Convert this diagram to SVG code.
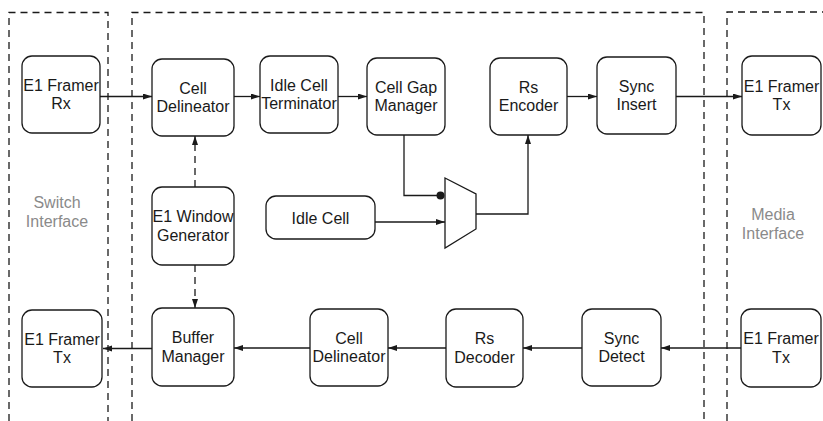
<svg xmlns="http://www.w3.org/2000/svg" width="823" height="421" viewBox="0 0 823 421">
  <style>
    .box { fill: #ffffff; stroke: #1a1a1a; stroke-width: 1.3; }
    .lbl { font-family: "Liberation Sans", Arial, sans-serif; font-size: 16px; fill: #1a1a1a; text-anchor: middle; }
    .zone { font-family: "Liberation Sans", Arial, sans-serif; font-size: 16px; fill: #8a8a8a; text-anchor: middle; }
    .frame { fill: none; stroke: #1a1a1a; stroke-width: 1.3; stroke-dasharray: 7 5; }
    .wire { fill: none; stroke: #1a1a1a; stroke-width: 1.3; }
    .arrow { marker-end: url(#head); }
    .dash { stroke-dasharray: 7 5; }
  </style>
  <defs>
    <marker id="head" markerUnits="userSpaceOnUse" markerWidth="10" markerHeight="7" refX="9" refY="3" orient="auto">
      <path d="M0,0 L9,3 L0,6 z" fill="#1a1a1a" stroke="none"/>
    </marker>
  </defs>

  <rect width="823" height="421" fill="#ffffff"/>

  <!-- interface boundaries -->
  <g id="boundaries">
    <path class="frame" d="M9,421 V12.5 H108 V421"/>
    <path class="frame" d="M132,421 V12.5 H704 V421"/>
    <path class="frame" d="M727,421 V12 H823"/>
    <text class="zone" x="57" y="208">Switch</text>
    <text class="zone" x="57" y="227">Interface</text>
    <text class="zone" x="773" y="220">Media</text>
    <text class="zone" x="773" y="239">Interface</text>
  </g>

  <!-- connectors -->
  <g id="connectors">
    <path class="wire arrow" d="M100,96.5 H152"/>
    <path class="wire arrow" d="M234,96.5 H260"/>
    <path class="wire arrow" d="M338,96.5 H367"/>
    <path class="wire arrow" d="M567,96.5 H597"/>
    <path class="wire arrow" d="M676,96.5 H742"/>
    <path class="wire" d="M404,135 V195.5 H440"/>
    <circle cx="440.5" cy="195.5" r="4" fill="#1a1a1a"/>
    <path class="wire arrow" d="M375,222 H445"/>
    <path class="wire arrow" d="M476,214 H528 V135"/>
    <path class="wire dash arrow" d="M195,187 V136"/>
    <path class="wire dash arrow" d="M195,265 V308"/>
    <path class="wire arrow" d="M152,348.5 H103"/>
    <path class="wire arrow" d="M310,348 H234"/>
    <path class="wire arrow" d="M446,348 H388"/>
    <path class="wire arrow" d="M582,348 H523"/>
    <path class="wire arrow" d="M741,348 H661"/>
  </g>

  <!-- transmit path -->
  <g id="framer-rx">
    <rect class="box" x="22" y="56" width="78" height="77" rx="10"/>
    <text class="lbl" x="61" y="90.5">E1 Framer</text>
    <text class="lbl" x="61" y="109">Rx</text>
  </g>
  <g id="cell-delineator-tx">
    <rect class="box" x="152" y="59" width="82" height="77" rx="10"/>
    <text class="lbl" x="193" y="93.5">Cell</text>
    <text class="lbl" x="193" y="112">Delineator</text>
  </g>
  <g id="idle-cell-terminator">
    <rect class="box" x="260" y="56" width="78" height="77" rx="10"/>
    <text class="lbl" x="299" y="90.5">Idle Cell</text>
    <text class="lbl" x="299" y="109">Terminator</text>
  </g>
  <g id="cell-gap-manager">
    <rect class="box" x="367" y="58" width="78" height="77" rx="10"/>
    <text class="lbl" x="406" y="92.5">Cell Gap</text>
    <text class="lbl" x="406" y="111">Manager</text>
  </g>
  <g id="rs-encoder">
    <rect class="box" x="490" y="58" width="77" height="77" rx="10"/>
    <text class="lbl" x="528.5" y="92.5">Rs</text>
    <text class="lbl" x="528.5" y="111">Encoder</text>
  </g>
  <g id="sync-insert">
    <rect class="box" x="597" y="57" width="79" height="77" rx="10"/>
    <text class="lbl" x="636.5" y="91.5">Sync</text>
    <text class="lbl" x="636.5" y="110">Insert</text>
  </g>
  <g id="framer-tx-media">
    <rect class="box" x="742" y="56" width="79" height="79" rx="10"/>
    <text class="lbl" x="781.5" y="91.5">E1 Framer</text>
    <text class="lbl" x="781.5" y="110">Tx</text>
  </g>

  <!-- idle cell insertion -->
  <g id="idle-cell">
    <rect class="box" x="266" y="196" width="109" height="43" rx="10"/>
    <text class="lbl" x="320.5" y="223.5">Idle Cell</text>
  </g>
  <g id="mux">
    <polygon class="box" points="445,178 476,194 476,229 445,248"/>
  </g>

  <g id="e1-window-generator">
    <rect class="box" x="152" y="187" width="82" height="78" rx="10"/>
    <text class="lbl" x="193" y="222">E1 Window</text>
    <text class="lbl" x="193" y="240.5">Generator</text>
  </g>

  <!-- receive path -->
  <g id="framer-tx-switch">
    <rect class="box" x="22" y="310" width="80" height="77" rx="10"/>
    <text class="lbl" x="62" y="344.5">E1 Framer</text>
    <text class="lbl" x="62" y="363">Tx</text>
  </g>
  <g id="buffer-manager">
    <rect class="box" x="152" y="308" width="82" height="78" rx="10"/>
    <text class="lbl" x="193" y="343">Buffer</text>
    <text class="lbl" x="193" y="361.5">Manager</text>
  </g>
  <g id="cell-delineator-rx">
    <rect class="box" x="310" y="309" width="78" height="77" rx="10"/>
    <text class="lbl" x="349" y="343.5">Cell</text>
    <text class="lbl" x="349" y="362">Delineator</text>
  </g>
  <g id="rs-decoder">
    <rect class="box" x="446" y="309" width="77" height="78" rx="10"/>
    <text class="lbl" x="484.5" y="344">Rs</text>
    <text class="lbl" x="484.5" y="362.5">Decoder</text>
  </g>
  <g id="sync-detect">
    <rect class="box" x="582" y="309" width="79" height="77" rx="10"/>
    <text class="lbl" x="621.5" y="343.5">Sync</text>
    <text class="lbl" x="621.5" y="362">Detect</text>
  </g>
  <g id="framer-tx-rx-side">
    <rect class="box" x="741" y="309" width="80" height="78" rx="10"/>
    <text class="lbl" x="781" y="344">E1 Framer</text>
    <text class="lbl" x="781" y="362.5">Tx</text>
  </g>
</svg>
